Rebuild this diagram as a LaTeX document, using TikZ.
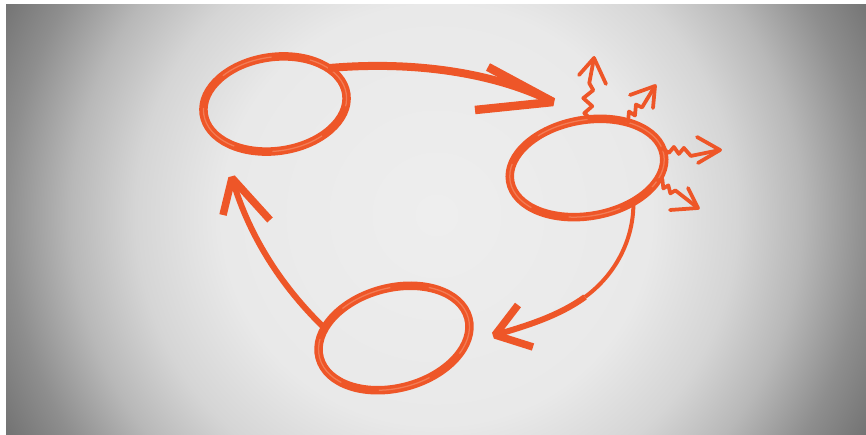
\documentclass[tikz,border=0pt]{standalone}
\usepackage{xcolor}
\usepackage{tikz}
\usetikzlibrary{arrows.meta,positioning,calc,shapes.geometric}

\definecolor{marker}{RGB}{238,86,40}
\definecolor{markerhi}{RGB}{247,150,115}
\definecolor{paperlight}{HTML}{EEEEEE}
\definecolor{paperpale}{HTML}{E9E9E9}
\definecolor{papermid}{HTML}{D5D5D5}
\definecolor{papergrey}{HTML}{B8B8B8}
\definecolor{paperedge}{HTML}{8E8E8E}
\definecolor{papershade}{HTML}{6E6E6E}
\definecolor{paperdark}{HTML}{606060}
\pgfdeclareradialshading{vignette}{\pgfpoint{0bp}{0bp}}{color(0bp)=(paperlight);
  color(10bp)=(paperpale); color(14bp)=(papermid); color(17bp)=(papergrey);
  color(20bp)=(paperedge); color(23bp)=(papershade); color(25bp)=(paperdark);
  color(50bp)=(paperdark)}

\begin{document}
\begin{tikzpicture}[x=0.02cm,y=-0.02cm,
    stage/.style={ellipse,draw=marker,line width=0.17cm,inner sep=0pt,outer sep=0pt,
                  postaction={draw=markerhi,draw opacity=0.6,line width=0.025cm,
                              dash pattern=on 30pt off 22pt}},
    sweep/.style={draw=marker,line width=#1,line cap=butt,line join=bevel},
    flare/.style={draw=marker,line width=0.075cm,line cap=round,line join=round}]
  % paper
  \fill[white] (0,0) rectangle (866,435);
  \begin{scope}
    \clip (6,5) rectangle (866,435);
    \shade[shading=vignette] (-101,-310) rectangle (974,740);
  \end{scope}
  % the three rings
  \node[stage,minimum width=2.88cm,minimum height=1.88cm,rotate=8] (ringtop) at (275,104) {};
  \node[stage,minimum width=3.12cm,minimum height=1.92cm,rotate=10] (ringspark) at (587,168) {};
  \node[stage,minimum width=3.08cm,minimum height=2.0cm,rotate=15] (ringlow) at (394,338) {};
  \coordinate (tipa) at (553,102);
  \coordinate (tipb) at (495,335);
  \coordinate (tipc) at (232,178);
  \coordinate (bendb) at (585,297);
  % cycle arrows
  \draw[sweep=0.16cm] (ringtop.26) .. controls (420,60) and (500,75) .. (tipa);
  \draw[sweep=0.17cm] (tipa) ++(-65,-35) -- (tipa) -- ++(-78,8);
  \draw[sweep=0.08cm] (ringspark.314) .. controls (634,240) and (615,275) .. (bendb);
  \draw[sweep=0.12cm] (bendb) .. controls (560,315) and (530,325) .. (tipb);
  \draw[sweep=0.15cm] (tipb) ++(23,-30) -- (tipb) -- ++(38,12);
  \draw[sweep=0.12cm] (ringlow.157) .. controls (285,290) and (250,240) .. (tipc);
  \draw[sweep=0.15cm] (tipc) ++(-9,37) -- (tipc) -- ++(38,42);
  % sparks round the right ring
  \coordinate (tipd) at (594,58);
  \coordinate (tipe) at (655,86);
  \coordinate (tipf) at (720,150);
  \coordinate (tipg) at (698,208);
  \draw[flare] (ringspark.75) -- ++(-7,-6) -- ++(8,-7) -- ++(-9,-8) -- ++(10,-8) -- ++(-4,-7) -- (tipd);
  \draw[flare] (tipd) ++(-15,17) -- (tipd) -- ++(12,26);
  \draw[flare] (ringspark.38) -- ++(1,-11) -- ++(6,4) -- ++(1,-11) -- ++(6,3) -- (tipe);
  \draw[flare] (tipe) ++(-25,9) -- (tipe) -- ++(-2,22);
  \draw[flare] (ringspark.5) -- ++(7,5) -- ++(5,-6) -- ++(5,7) -- ++(5,-6) -- ++(7,8) -- (tipf);
  \draw[flare] (tipf) ++(-23,-13) -- (tipf) -- ++(-22,13);
  \draw[flare] (ringspark.340) -- ++(5,-1) -- ++(1,9) -- ++(5,-3) -- ++(2,8) -- ++(5,-3) -- (tipg);
  \draw[flare] (tipg) ++(-10,-20) -- (tipg) -- ++(-28,2);
\end{tikzpicture}
\end{document}
